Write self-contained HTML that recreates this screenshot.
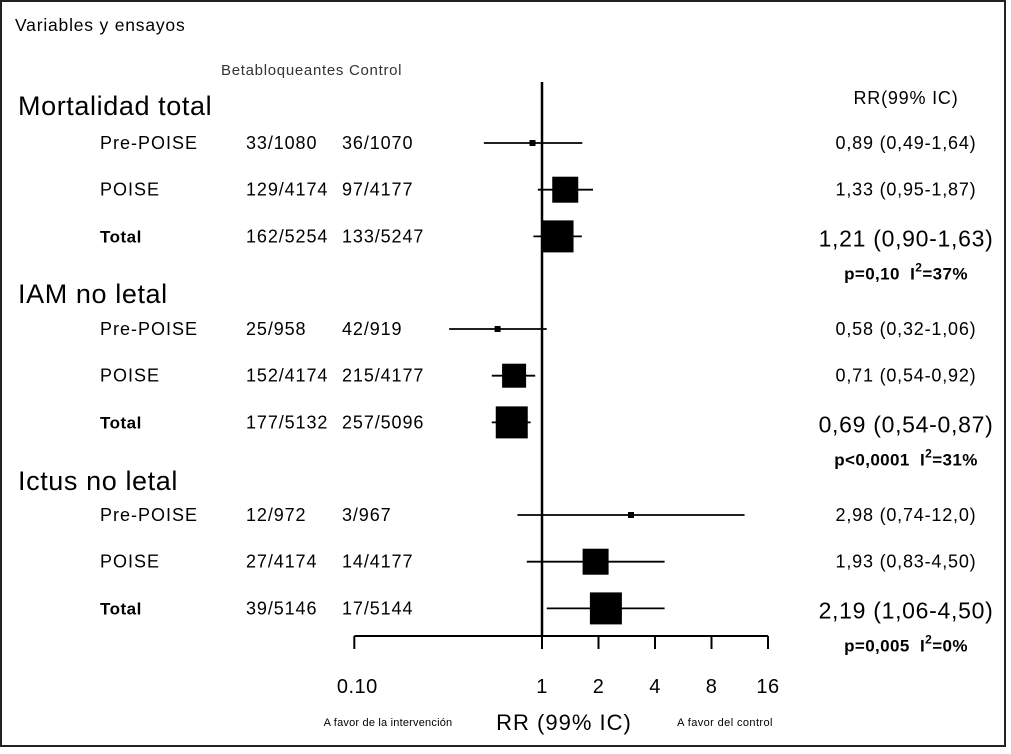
<!DOCTYPE html>
<html><head><meta charset="utf-8"><style>
body{margin:0;background:#fff}
svg{display:block;font-family:"Liberation Sans",Arial,sans-serif}
</style></head><body>
<svg id="chart" width="1011" height="754" viewBox="0 0 1011 754">
<rect x="1" y="1" width="1004" height="745" fill="#fff" stroke="#222" stroke-width="2"/>
<text x="15" y="31" font-size="17.5" letter-spacing="0.8">Variables y ensayos</text>
<text x="221" y="75" font-size="15" letter-spacing="0.7" fill="#333">Betabloqueantes Control</text>
<text x="906" y="104" font-size="18" letter-spacing="0.8" text-anchor="middle">RR(99% IC)</text>
<g id="rows"></g>
<g id="axis"></g>
</svg>
<script>
const groups = ["Mortalidad total","IAM no letal","Ictus no letal"];
const groupY = [104, 292, 479];
const studies = ["Pre-POISE","POISE","Total","Pre-POISE","POISE","Total","Pre-POISE","POISE","Total"];
const treatCounts = ["33/1080","129/4174","162/5254","25/958","152/4174","177/5132","12/972","27/4174","39/5146"];
const ctrlCounts = ["36/1070","97/4177","133/5247","42/919","215/4177","257/5096","3/967","14/4177","17/5144"];
const rr = [0.89,1.33,1.21,0.58,0.71,0.69,2.98,1.93,2.19];
const lo = [0.49,0.95,0.90,0.32,0.54,0.54,0.74,0.83,1.06];
const hi = [1.64,1.87,1.63,1.06,0.92,0.87,12.0,4.50,4.50];
const weights = [6,26,32,6,24,32,6,26,32];
const rrLabels = ["0,89 (0,49-1,64)","1,33 (0,95-1,87)","1,21 (0,90-1,63)","0,58 (0,32-1,06)","0,71 (0,54-0,92)","0,69 (0,54-0,87)","2,98 (0,74-12,0)","1,93 (0,83-4,50)","2,19 (1,06-4,50)"];
const pLabels = ["p=0,10\u00a0\u00a0I","p<0,0001\u00a0\u00a0I","p=0,005\u00a0\u00a0I"];
const pI2 = ["=37%","=31%","=0%"];
const tickValues = [0.1,1,2,4,8,16];
const tickLabels = ["0.10","1","2","4","8","16"];

const NS="http://www.w3.org/2000/svg";
const rowY = i => 143 + Math.floor(i/3)*186 + (i%3)*46.7;
const x = v => 542 + Math.log2(v)*56.5;
function mk(tag, attrs, parent, txt){
  const e=document.createElementNS(NS,tag);
  for(const k in attrs) e.setAttribute(k,attrs[k]);
  if(txt!==undefined) e.textContent=txt;
  parent.appendChild(e); return e;
}
const rows=document.getElementById('rows');
const axis=document.getElementById('axis');
const ref = mk('line',{x1:x(1),x2:x(1),y1:82,y2:636,stroke:'#000','stroke-width':2.5},rows);


groups.forEach((g,gi)=>{
  const t=mk('text',{x:18,y:groupY[gi]+11,'font-size':27,'letter-spacing':0.6},rows,g);
  
  
  const p=mk('text',{x:906,y:rowY(gi*3+2)+43,'font-size':17,'letter-spacing':0.4,'font-weight':'bold','text-anchor':'middle'},rows);
  
  
  const a=document.createElementNS(NS,'tspan'); a.textContent=pLabels[gi]; p.appendChild(a);
  const b=document.createElementNS(NS,'tspan'); b.setAttribute('dy','-8'); b.setAttribute('font-size','12'); b.textContent='2'; p.appendChild(b);
  const c=document.createElementNS(NS,'tspan'); c.setAttribute('dy','8'); c.textContent=pI2[gi]; p.appendChild(c);
});
studies.forEach((s,i)=>{
  const y=rowY(i), tot=(i%3===2);
  const n=mk('text',{x:100,y:y+6,'font-size':tot?17:18,'letter-spacing':tot?0.5:1,'font-weight':tot?'bold':'normal'},rows,s);
  
  
  const a=mk('text',{x:246,y:y+6,'font-size':18,'letter-spacing':0.9},rows,treatCounts[i]);
  
  
  const b=mk('text',{x:342,y:y+6,'font-size':18,'letter-spacing':0.9},rows,ctrlCounts[i]);
  
  
  const l=mk('line',{x1:x(lo[i]),x2:x(hi[i]),y1:y,y2:y,stroke:'#000','stroke-width':1.8},rows);
  
  
  const w=weights[i];
  const r=mk('rect',{x:x(rr[i])-w/2,y:y-w/2,width:w,height:w,fill:'#000'},rows);
  
  
  const lab=mk('text',{x:906,y:y+(tot?10:6),'font-size':tot?23:18,'letter-spacing':tot?0.7:0.8,'text-anchor':'middle'},rows,rrLabels[i]);
  
  
});
const ax=mk('line',{x1:x(tickValues[0]),x2:x(tickValues[tickValues.length-1]),y1:636,y2:636,stroke:'#000','stroke-width':2},axis);


tickValues.forEach((v,i)=>{
  const t=mk('line',{x1:x(v),x2:x(v),y1:636,y2:649,stroke:'#000','stroke-width':2},axis);
  
  
  const l=mk('text',{x:x(v)+(i===0?3:0),y:693,'font-size':20,'letter-spacing':0.5,'text-anchor':'middle'},axis,tickLabels[i]);
  
  
});
const t1=mk('text',{x:564,y:730,'font-size':22,'letter-spacing':1,'text-anchor':'middle'},axis,'RR (99% IC)');


const t2=mk('text',{x:388,y:726,'font-size':11,'letter-spacing':0.2,'text-anchor':'middle'},axis,'A favor de la intervención');


const t3=mk('text',{x:725,y:726,'font-size':11,'letter-spacing':0.4,'text-anchor':'middle'},axis,'A favor del control');


</script>
</body></html>
